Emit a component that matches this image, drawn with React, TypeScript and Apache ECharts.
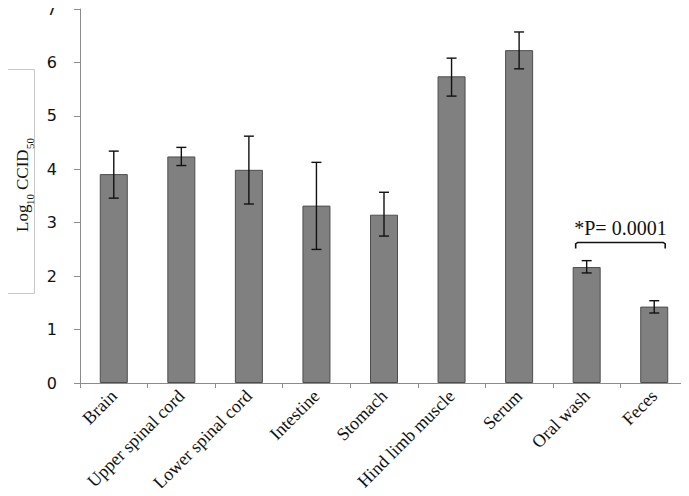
import React, { useEffect, useRef } from "react";
import * as echarts from "echarts";

const categories = ["Brain", "Upper spinal cord", "Lower spinal cord", "Intestine", "Stomach", "Hind limb muscle", "Serum", "Oral wash", "Feces"];
const means = [3.91, 4.24, 3.99, 3.32, 3.15, 5.74, 6.23, 2.17, 1.43];
const errLow = [3.46, 4.07, 3.35, 2.5, 2.75, 5.37, 5.88, 2.06, 1.31];
const errHigh = [4.34, 4.41, 4.62, 4.13, 3.57, 6.08, 6.57, 2.29, 1.54];
const yTicks = [0, 1, 2, 3, 4, 5, 6, 7];
const sigPair = [7, 8];
const sigLevel = 2.63;
const sigLabel = "*P= 0.0001";

export default function App() {
  const ref = useRef<HTMLDivElement>(null);
  useEffect(() => {
    if (!ref.current) return;
    const chart = echarts.init(ref.current, null, { renderer: "svg" });
    const errData = categories.map((_, i) => [i, errLow[i], errHigh[i]]);
    chart.setOption({
      animation: false,
      grid: { left: 80, right: 1, top: 9, bottom: 113, containLabel: false, outerBoundsMode: "none" },
      xAxis: {
        type: "category",
        data: categories,
        axisLine: { lineStyle: { color: "#8c8c8c", width: 1 } },
        axisTick: { show: true, length: 5, lineStyle: { color: "#8c8c8c" } },
        axisLabel: {
          rotate: 45,
          interval: 0,
          margin: 10,
          fontFamily: "Liberation Serif",
          fontSize: 18,
          color: "#111",
        },
      },
      yAxis: {
        type: "value",
        min: yTicks[0],
        max: yTicks[yTicks.length - 1],
        interval: 1,
        axisLine: { show: true, lineStyle: { color: "#8c8c8c", width: 1 } },
        axisTick: { show: true, length: 6, lineStyle: { color: "#8c8c8c" } },
        splitLine: { show: false },
        axisLabel: {
          margin: 23,
          fontFamily: "DejaVu Sans",
          fontSize: 16,
          color: "#111",
        },
      },
      series: [
        {
          type: "bar",
          data: means,
          barWidth: 28,
          itemStyle: { color: "#808080", borderColor: "#4d4d4d", borderWidth: 1 },
        },
        {
          type: "custom",
          data: errData,
          z: 5,
          renderItem: (params: any, api: any) => {
            const x = api.value(0);
            const lo = api.coord([x, api.value(1)]);
            const hi = api.coord([x, api.value(2)]);
            const cap = 5;
            const style = { stroke: "#111", lineWidth: 1.4 };
            return {
              type: "group",
              children: [
                { type: "line", shape: { x1: lo[0], y1: lo[1], x2: hi[0], y2: hi[1] }, style },
                { type: "line", shape: { x1: hi[0] - cap, y1: hi[1], x2: hi[0] + cap, y2: hi[1] }, style },
                { type: "line", shape: { x1: lo[0] - cap, y1: lo[1], x2: lo[0] + cap, y2: lo[1] }, style },
              ],
            };
          },
        },
        {
          type: "custom",
          data: [[sigPair[0], sigPair[1], sigLevel]],
          z: 6,
          renderItem: (params: any, api: any) => {
            const a = api.coord([api.value(0), api.value(2)]);
            const b = api.coord([api.value(1), api.value(2)]);
            const x1 = a[0] - 11;
            const x2 = b[0] + 11;
            const y = a[1];
            const style = { stroke: "#111", lineWidth: 1.6, fill: null };
            return {
              type: "group",
              children: [
                {
                  type: "polyline",
                  shape: { points: [[x1, y + 6], [x1, y + 1.5], [x1 + 2, y], [x2 - 2, y], [x2, y + 1.5], [x2, y + 6]] },
                  style,
                },
                {
                  type: "text",
                  x: (x1 + x2) / 2,
                  y: y - 4,
                  style: {
                    text: sigLabel,
                    fontFamily: "Liberation Serif",
                    fontSize: 20,
                    fill: "#111",
                    align: "center",
                    verticalAlign: "bottom",
                  },
                },
              ],
            };
          },
        },
      ],
      graphic: [
        {
          type: "rect",
          left: 1,
          top: 69,
          shape: { width: 33, height: 224 },
          style: { fill: "#fff", stroke: "#c8c8c8", lineWidth: 1 },
        },
        {
          type: "group",
          x: 31,
          y: 232,
          rotation: Math.PI / 2,
          children: [
            { type: "text", x: 0, y: 0, style: { text: "Log", fontFamily: "Liberation Serif", fontSize: 17, fill: "#111", verticalAlign: "bottom" } },
            { type: "text", x: 27, y: 4, style: { text: "10", fontFamily: "Liberation Serif", fontSize: 11, fill: "#111", verticalAlign: "bottom" } },
            { type: "text", x: 42, y: 0, style: { text: "CCID", fontFamily: "Liberation Serif", fontSize: 17, fill: "#111", verticalAlign: "bottom" } },
            { type: "text", x: 83, y: 4, style: { text: "50", fontFamily: "Liberation Serif", fontSize: 11, fill: "#111", verticalAlign: "bottom" } },
          ],
        },
      ],
    });
    return () => chart.dispose();
  }, []);
  return <div ref={ref} style={{ width: 689, height: 496, margin: -8 }} />;
}
